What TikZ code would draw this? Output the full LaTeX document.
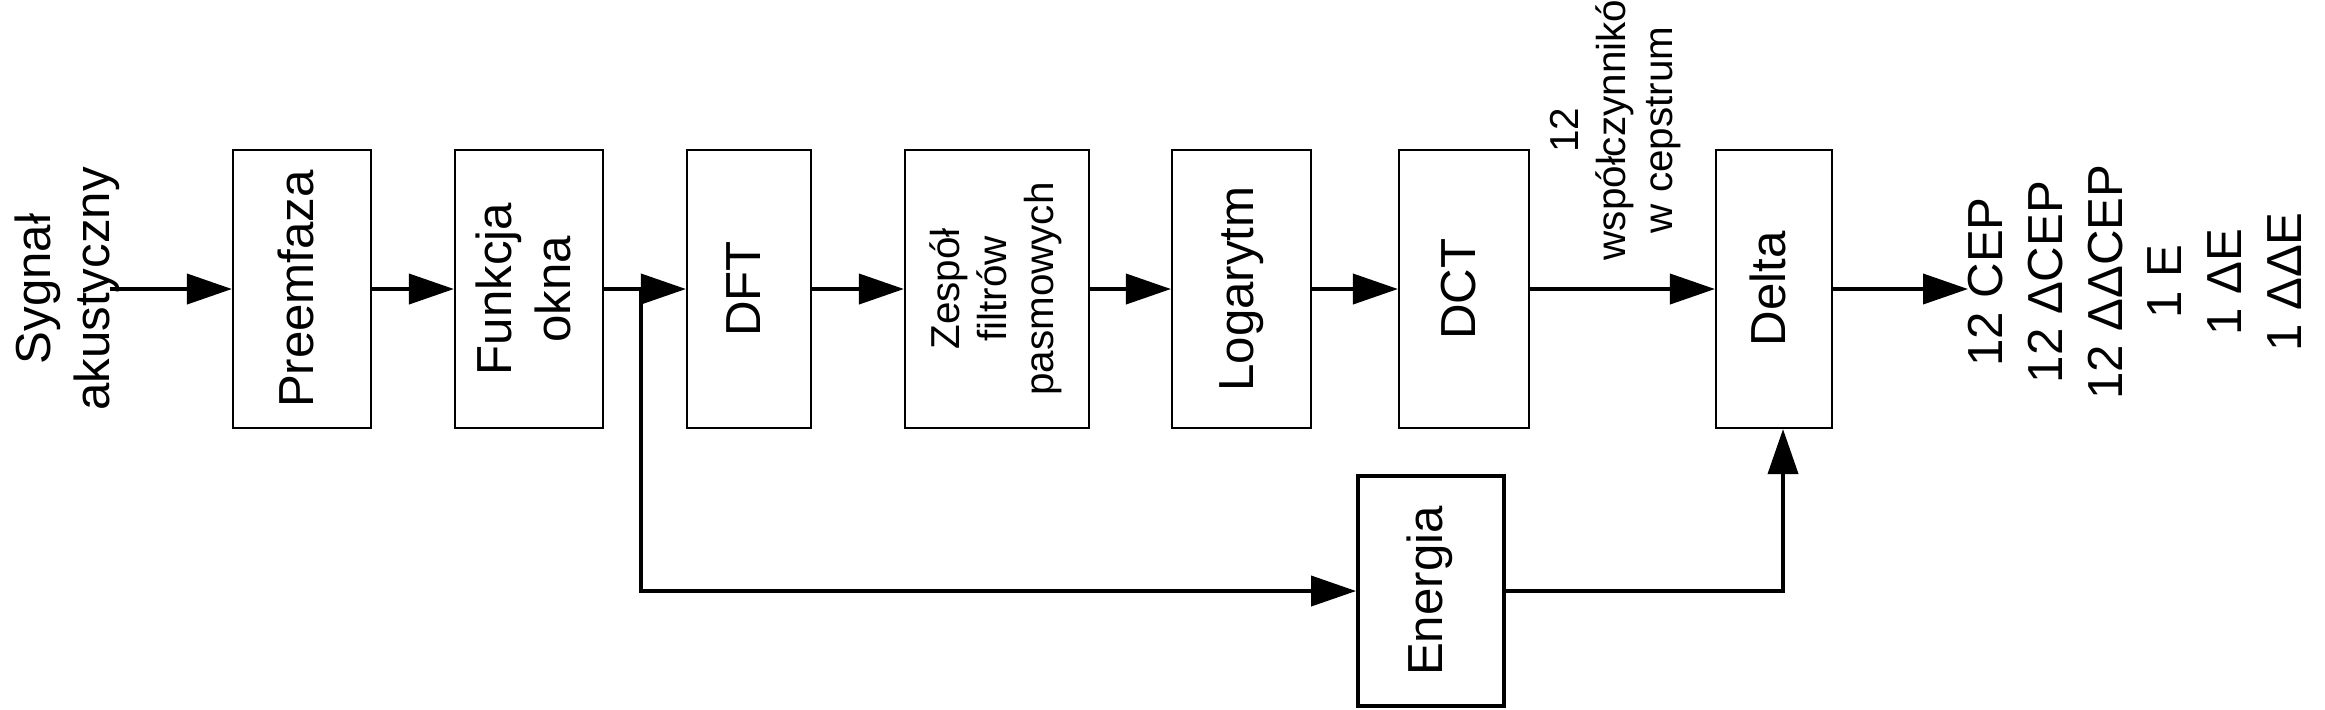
\documentclass[tikz,border=0pt]{standalone}
\usepackage{fontspec}
\setmainfont{Liberation Sans}
\usepackage{graphicx}
\usetikzlibrary{arrows.meta}
\tikzset{
    blok/.style = {rectangle, draw=black, line width=0.6pt, inner sep=0pt, minimum height=2.78cm, font=\fontsize{14}{17}\selectfont},
    blokt/.style = {blok, line width=1.1pt},
    edgen/.style = {-{Triangle[length=4.5mm,width=3mm]}, line width=1.1pt},
    opis/.style = {inner sep=0pt, font=\fontsize{14}{17}\selectfont},
    opiss/.style = {inner sep=0pt, font=\fontsize{11.5}{13.5}\selectfont}
}
\newcommand{\pion}[1]{\rotatebox{90}{\begin{tabular}{@{}c@{}}#1\end{tabular}}}

\begin{document}
\begin{tikzpicture}
  \useasboundingbox (0,0) rectangle (23.25,-7.09);
  % bloki
  \node[blok, minimum width=1.38cm] (pre) at (3.02,-2.89) {\pion{Preemfaza}};
  \node[blok, minimum width=1.48cm] (okno) at (5.29,-2.89) {\pion{Funkcja\\okna}};
  \node[blok, minimum width=1.24cm] (dft) at (7.49,-2.89) {\pion{DFT}};
  \node[blok, minimum width=1.84cm, font=\fontsize{11.5}{13.5}\selectfont] (filtry) at (9.97,-2.89) {\pion{Zespół\\filtrów\\pasmowych}};
  \node[blok, minimum width=1.39cm] (log) at (12.415,-2.89) {\pion{Logarytm}};
  \node[blok, minimum width=1.30cm] (dct) at (14.64,-2.89) {\pion{DCT}};
  \node[blok, minimum width=1.16cm] (delta) at (17.74,-2.89) {\pion{Delta}};
  \node[blokt, minimum width=1.46cm, minimum height=2.30cm] (energia) at (14.31,-5.91) {\pion{Energia}};

  % opisy
  \node[opis] (wej) at (0.68,-2.89) {\pion{Sygnał\\akustyczny}};
  \node[opiss] (wsp) at (16.16,-1.30) {\pion{12\\współczynnikó\\w cepstrum}};
  \node[opis] (wyj) at (21.40,-2.82) {\pion{12 CEP\\12 ΔCEP\\12 ΔΔCEP\\1 E\\1 ΔE\\1 ΔΔE}};

  % polaczenia
  \coordinate (start) at (1.10,-2.89);
  \coordinate (rozg) at (6.41,-2.89);
  \coordinate (koniec) at (19.68,-2.89);
  \draw[edgen] (start) -- (pre);
  \draw[edgen] (pre) -- (okno);
  \draw[edgen] (okno) -- (dft);
  \draw[edgen] (dft) -- (filtry);
  \draw[edgen] (filtry) -- (log);
  \draw[edgen] (log) -- (dct);
  \draw[edgen] (dct) -- (delta);
  \draw[edgen] (delta) -- (koniec);
  \draw[edgen] (rozg) |- (energia.west);
  \draw[edgen] (energia.east) -| ([xshift=0.9mm]delta.south);
\end{tikzpicture}
\end{document}
